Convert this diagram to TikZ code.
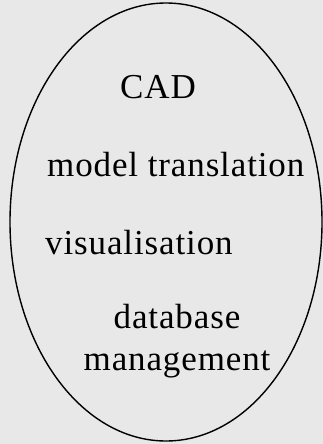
\documentclass[tikz,border=0pt]{standalone}
\usepackage{fontspec}
\setmainfont{Liberation Serif}[LetterSpace=2.5]
\definecolor{paper}{RGB}{232,232,232}
\newcommand{\tnode}[4]{\node(#1)[term,#2] at (#3) {#4}}

\begin{document}
\begin{tikzpicture}[x=1pt,y=-1pt,
    term/.style={inner sep=0pt,font=\fontsize{35}{42}\selectfont},
    rim/.style={line width=1.4pt,draw=black}
  ]
  \fill[paper] (0,0) rectangle (323,444);
  \useasboundingbox (0,0) rectangle (323,444);

  \draw[rim] (166,222) ellipse [x radius=156,y radius=219];

  \tnode{cad}{anchor=base}{158,98}{CAD};
  \tnode{trans}{anchor=base west}{47,176}{model translation};
  \tnode{vis}{anchor=base west}{45,254}{visualisation};
  \tnode{dbm}{anchor=base,align=center}{177,370}{database\\management};
\end{tikzpicture}
\end{document}
